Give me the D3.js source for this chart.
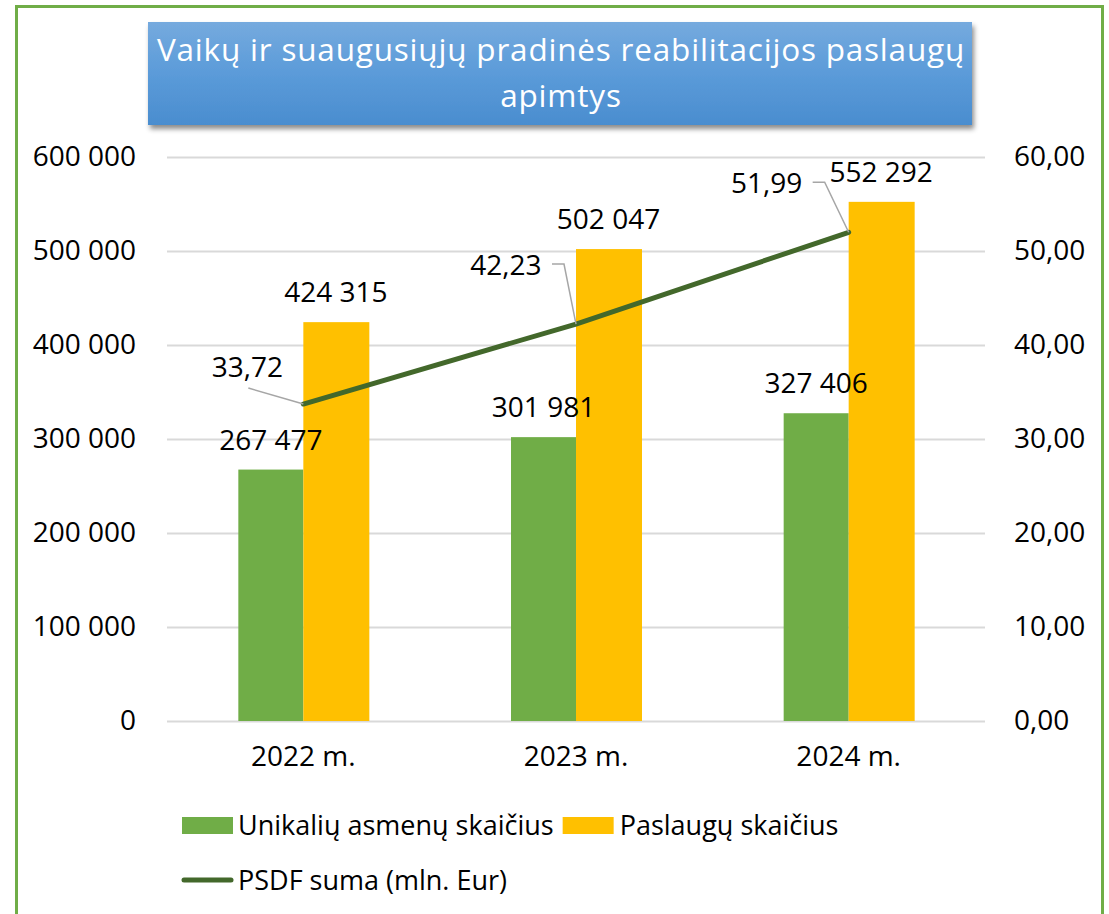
<!DOCTYPE html>
<head>
  <meta charset="utf-8">
  <script src="https://d3js.org/d3.v7.min.js"></script>
  <style>
body { margin: 0; background: #fff; }
svg { display: block; font-family: "Open Sans", sans-serif; }
  </style>
</head>
<body>
<svg width="1109" height="914"></svg>
<script>
var categories = ["2022 m.", "2023 m.", "2024 m."];
var persons = [267477, 301981, 327406];
var services = [424315, 502047, 552292];
var psdf = [33.72, 42.23, 51.99];
var leftTicks = [0, 100000, 200000, 300000, 400000, 500000, 600000];
var rightTicks = [0, 10, 20, 30, 40, 50, 60];
// label offsets for the line values (dx to label centre, dy to baseline)
var lineLabelPos = [[-56, -27], [-70, -49], [-82, -39]];

var svg = d3.select("svg");
var fmtInt = function(v) { return d3.format(",")(v).replace(/,/g, " "); };
var fmtDec = function(v) { return v.toFixed(2).replace(".", ","); };
var FS = 28;

// outer frame
svg.append("rect")
    .attr("x", 16.5).attr("y", 6.5)
    .attr("width", 1086).attr("height", 940)
    .attr("fill", "none")
    .attr("stroke", "#70ad47")
    .attr("stroke-width", 3);

// title box
var defs = svg.append("defs");
var grad = defs.append("linearGradient").attr("id", "tg")
    .attr("x1", 0).attr("y1", 0).attr("x2", 0).attr("y2", 1);
grad.append("stop").attr("offset", "0%").attr("stop-color", "#75aade");
grad.append("stop").attr("offset", "50%").attr("stop-color", "#5b9bd9");
grad.append("stop").attr("offset", "100%").attr("stop-color", "#4a8dcf");
var sh = defs.append("filter").attr("id", "sh")
    .attr("x", "-5%").attr("y", "-10%").attr("width", "115%").attr("height", "130%");
sh.append("feDropShadow").attr("dx", 2).attr("dy", 4).attr("stdDeviation", 2.5)
    .attr("flood-color", "#000").attr("flood-opacity", 0.45);

svg.append("rect")
    .attr("x", 148).attr("y", 22)
    .attr("width", 824).attr("height", 103)
    .attr("fill", "url(#tg)")
    .attr("filter", "url(#sh)");

svg.append("text")
    .attr("x", 561).attr("y", 61)
    .attr("text-anchor", "middle")
    .attr("fill", "#fff")
    .attr("font-size", 31.5)
    .attr("letter-spacing", 0.8)
    .text("Vaikų ir suaugusiųjų pradinės reabilitacijos paslaugų");
svg.append("text")
    .attr("x", 561).attr("y", 107)
    .attr("text-anchor", "middle")
    .attr("fill", "#fff")
    .attr("font-size", 31.5)
    .attr("letter-spacing", 0.8)
    .text("apimtys");

// scales
var x = d3.scaleBand().domain(categories).range([167, 985]);
var yL = d3.scaleLinear().domain([0, 600000]).range([721, 157]);
var yR = d3.scaleLinear().domain([0, 60]).range([721, 157]);
var barW = 65;

// gridlines
svg.append("g").selectAll("line")
  .data(leftTicks)
  .enter().append("line")
    .attr("x1", 167).attr("x2", 985)
    .attr("y1", function(d) { return yL(d) + 0.5; })
    .attr("y2", function(d) { return yL(d) + 0.5; })
    .attr("stroke", "#d9d9d9")
    .attr("stroke-width", 2);

// axes
var axL = svg.append("g").attr("transform", "translate(136,0)")
    .call(d3.axisLeft(yL).tickValues(leftTicks).tickSize(0).tickFormat(fmtInt));
var axR = svg.append("g").attr("transform", "translate(1014,0)")
    .call(d3.axisRight(yR).tickValues(rightTicks).tickSize(0).tickFormat(fmtDec));
var axB = svg.append("g").attr("transform", "translate(0,743)")
    .call(d3.axisBottom(x).tickSize(0));
[axL, axR, axB].forEach(function(a) {
  a.select(".domain").remove();
  a.selectAll("text").attr("font-size", FS).attr("fill", "#000")
    .attr("font-family", "'Open Sans', sans-serif");
});
axL.selectAll("text").attr("x", 0);
axR.selectAll("text").attr("x", 0);

// bars
svg.append("g").selectAll("rect")
  .data(persons)
  .enter().append("rect")
    .attr("x", function(d, i) { return x(categories[i]) + x.bandwidth() / 2 - barW; })
    .attr("y", function(d) { return yL(d); })
    .attr("width", barW)
    .attr("height", function(d) { return yL(0) - yL(d); })
    .attr("fill", "#70ad47");

svg.append("g").selectAll("rect")
  .data(services)
  .enter().append("rect")
    .attr("x", function(d, i) { return x(categories[i]) + x.bandwidth() / 2; })
    .attr("y", function(d) { return yL(d); })
    .attr("width", barW + 1)
    .attr("height", function(d) { return yL(0) - yL(d); })
    .attr("fill", "#ffc000");

// line
var lx = function(d, i) { return x(categories[i]) + x.bandwidth() / 2; };
svg.append("path")
    .datum(psdf)
    .attr("fill", "none")
    .attr("stroke", "#43682b")
    .attr("stroke-width", 5)
    .attr("stroke-linecap", "round")
    .attr("d", d3.line().x(lx).y(function(d) { return yR(d); }));

// bar labels
svg.append("g").selectAll("text")
  .data(persons)
  .enter().append("text")
    .attr("x", function(d, i) { return x(categories[i]) + x.bandwidth() / 2 - barW / 2; })
    .attr("y", function(d) { return yL(d) - 20; })
    .attr("text-anchor", "middle")
    .attr("font-size", FS)
    .text(fmtInt);

svg.append("g").selectAll("text")
  .data(services)
  .enter().append("text")
    .attr("x", function(d, i) { return x(categories[i]) + x.bandwidth() / 2 + barW / 2; })
    .attr("y", function(d) { return yL(d) - 20; })
    .attr("text-anchor", "middle")
    .attr("font-size", FS)
    .text(fmtInt);

// line labels with leader lines
psdf.forEach(function(v, i) {
  var px = lx(v, i), py = yR(v);
  var o = lineLabelPos[i];
  var tx = px + o[0], ty = py + o[1];
  var pts;
  if (i === 0) {
    pts = [[tx + 1, ty + 11], [px, py]];
  } else {
    pts = [[tx + 46, ty - 11], [tx + 58, ty - 11], [px, py]];
  }
  svg.append("path")
      .attr("d", d3.line()(pts))
      .attr("fill", "none")
      .attr("stroke", "#a6a6a6")
      .attr("stroke-width", 1.5);
  svg.append("text")
      .attr("x", tx).attr("y", ty)
      .attr("text-anchor", "middle")
      .attr("font-size", FS)
      .text(fmtDec(v));
});

// legend
var lg = svg.append("g").attr("font-size", 27);
lg.append("rect").attr("x", 182).attr("y", 817).attr("width", 51).attr("height", 17).attr("fill", "#70ad47");
var t1 = lg.append("text").attr("x", 238).attr("y", 835).text("Unikalių asmenų skaičius");
var x2 = 238 + t1.node().getComputedTextLength() + 9;
lg.append("rect").attr("x", x2).attr("y", 817).attr("width", 51).attr("height", 17).attr("fill", "#ffc000");
lg.append("text").attr("x", x2 + 57).attr("y", 835).text("Paslaugų skaičius");
lg.append("line").attr("x1", 184).attr("x2", 231).attr("y1", 880).attr("y2", 880)
    .attr("stroke", "#43682b").attr("stroke-width", 5).attr("stroke-linecap", "round");
lg.append("text").attr("x", 238).attr("y", 890).text("PSDF suma (mln. Eur)");
</script>
</body>
